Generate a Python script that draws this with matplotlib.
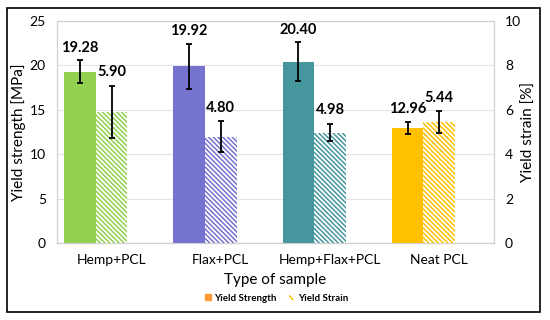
import matplotlib.pyplot as plt
import matplotlib.patches as mpatches
import numpy as np

plt.rcParams['font.family'] = ['Lato', 'DejaVu Sans']
plt.rcParams['hatch.linewidth'] = 1.1

# data
samples = ["Hemp+PCL", "Flax+PCL", "Hemp+Flax+PCL", "Neat PCL"]
strength = [19.28, 19.92, 20.40, 12.96]
strength_err = [1.3, 2.55, 2.2, 0.7]
strain = [5.90, 4.80, 4.98, 5.44]
strain_err = [1.17, 0.68, 0.38, 0.5]
colors = ["#92D050", "#7672CF", "#46969E", "#FFC000"]

fig = plt.figure(figsize=(5.5, 3.2), dpi=100)
ax = fig.add_axes([0.1036, 0.2406, 0.7944, 0.6934])
ax2 = ax.twinx()

x = np.arange(len(samples))
w = 0.29

ax.bar(x - w, strength, w, color=colors, zorder=3)
ax.errorbar(x - w, strength, yerr=strength_err, fmt='none', ecolor='black',
            elinewidth=1.3, capsize=2.5, capthick=1.3, zorder=4)
for xi, v, e in zip(x - w, strength, strength_err):
    ax.text(xi, v + e + 0.6, f"{v:.2f}", ha='center', va='bottom',
            fontsize=10.5, fontweight='bold')

ax2.bar(x, strain, w, color='white', edgecolor=colors, hatch='\\' * 7,
        linewidth=0, zorder=3)
ax2.errorbar(x, strain, yerr=strain_err, fmt='none', ecolor='black',
             elinewidth=1.3, capsize=2.5, capthick=1.3, zorder=4)
for xi, v, e in zip(x, strain, strain_err):
    ax2.text(xi, v + e + 0.3, f"{v:.2f}", ha='center', va='bottom',
             fontsize=10.5, fontweight='bold')

ax.set_xlim(-0.5, 3.5)
ax.set_ylim(0, 25)
ax2.set_ylim(0, 10)
ax.set_yticks(range(0, 26, 5))
ax2.set_yticks(range(0, 11, 2))
ax.set_xticks(x)
ax.set_xticklabels(samples)
ax.yaxis.grid(True, color='#E3E3E3', linewidth=0.8, zorder=0)
ax.set_axisbelow(True)

for a in (ax, ax2):
    a.tick_params(length=0, labelsize=10, pad=8)
    for s in a.spines.values():
        s.set_color('#D0D0D0')
        s.set_linewidth(0.8)
ax.spines['bottom'].set_color('#A0A0A0')

ax.set_ylabel("Yield strength [MPa]", fontsize=11)
ax.yaxis.set_label_coords(-0.071, 0.5)
ax2.set_ylabel("Yield strain [%]", fontsize=11)
ax2.yaxis.set_label_coords(1.064, 0.5)
ax.set_xlabel("Type of sample", fontsize=11, labelpad=5)

h1 = mpatches.Patch(color="#FF9933")
h2 = mpatches.Patch(facecolor='white', edgecolor="#FFC000", hatch='\\' * 5, linewidth=0)
fig.legend([h1, h2], ["Yield Strength", "Yield Strain"], loc='center',
           bbox_to_anchor=(0.503, 0.068), ncol=2, frameon=False,
           prop={'size': 7, 'weight': 'bold'}, handlelength=0.6,
           handleheight=0.6, columnspacing=1.2, handletextpad=0.4)

fig.patches.append(mpatches.Rectangle((7 / 550, 8 / 320), 533 / 550, 304 / 320,
                                      transform=fig.transFigure, fill=False,
                                      edgecolor='black', linewidth=1.2))

fig.savefig("out.png", dpi=100)
